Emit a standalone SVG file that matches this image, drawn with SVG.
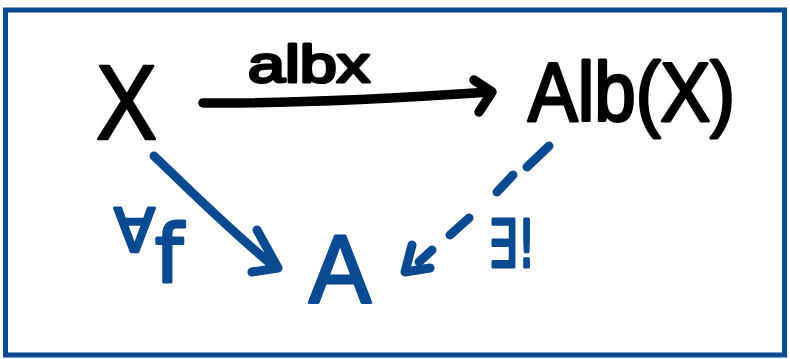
<svg xmlns="http://www.w3.org/2000/svg" width="790" height="359" viewBox="0 0 790 359">
  <style>
    .ink { fill: #000; stroke: #000; stroke-linejoin: round; }
    .blue { fill: #0a4a91; stroke: #0a4a91; stroke-linejoin: round; }
    .sans { font-family: "Liberation Sans", "DejaVu Sans", Arial, sans-serif; }
    .math { font-family: "DejaVu Sans", "Liberation Sans", sans-serif; }
    .stroke-black { fill: none; stroke: #000; stroke-width: 9.5; stroke-linecap: round; stroke-linejoin: round; }
    .stroke-blue { fill: none; stroke: #0a4a91; stroke-width: 9; stroke-linecap: round; stroke-linejoin: round; }
  </style>

  <rect x="0" y="0" width="790" height="359" fill="#fff"/>
  <!-- frame -->
  <rect x="5.5" y="10" width="779" height="345" fill="none" stroke="#0a4a91" stroke-width="5"/>

  <!-- nodes -->
  <g id="node-X">
    <text class="ink sans" x="96" y="139" font-size="105" stroke-width="2.5" textLength="61" lengthAdjust="spacingAndGlyphs">X</text>
  </g>
  <g id="node-AlbX">
    <text class="ink sans" x="528" y="121" font-size="84" stroke-width="3" textLength="207" lengthAdjust="spacingAndGlyphs">Alb(X)</text>
  </g>
  <g id="node-A">
    <text class="blue sans" x="309" y="302" font-size="97" stroke-width="3" textLength="62" lengthAdjust="spacingAndGlyphs">A</text>
  </g>

  <!-- connectors -->
  <g id="connectors">
    <!-- albx : X -> Alb(X) -->
    <path class="stroke-black" d="M203,103 C300,104 400,98 490,92"/>
    <path class="stroke-black" d="M474,80 L492,92 L479,112"/>
    <!-- forall f : X -> A -->
    <path class="stroke-blue" d="M154,156 C195,195 235,235 276,268"/>
    <path class="stroke-blue" d="M257,230 L278,268 L252,272"/>
    <!-- exists! : Alb(X) -> A (dashed) -->
    <path class="stroke-blue" d="M549,146 L527,167"/>
    <path class="stroke-blue" d="M513,175 L497,192"/>
    <path class="stroke-blue" d="M469,218 L450,235"/>
    <path class="stroke-blue" d="M432,250 L419,262"/>
    <path class="stroke-blue" d="M412,245 L405,272 L430,268"/>
  </g>

  <!-- edge labels -->
  <g id="label-albx">
    <text class="ink sans" x="248" y="82" font-size="52" stroke-width="3" textLength="122" lengthAdjust="spacingAndGlyphs">albx</text>
  </g>
  <g id="label-forall">
    <text class="blue math" x="114" y="252" font-size="60" stroke-width="3">∀<tspan font-size="80" dy="30">f</tspan></text>
  </g>
  <g id="label-exists">
    <text class="blue math" x="488" y="267" font-size="66" stroke-width="3" textLength="48" lengthAdjust="spacingAndGlyphs">∃!</text>
  </g>
</svg>
